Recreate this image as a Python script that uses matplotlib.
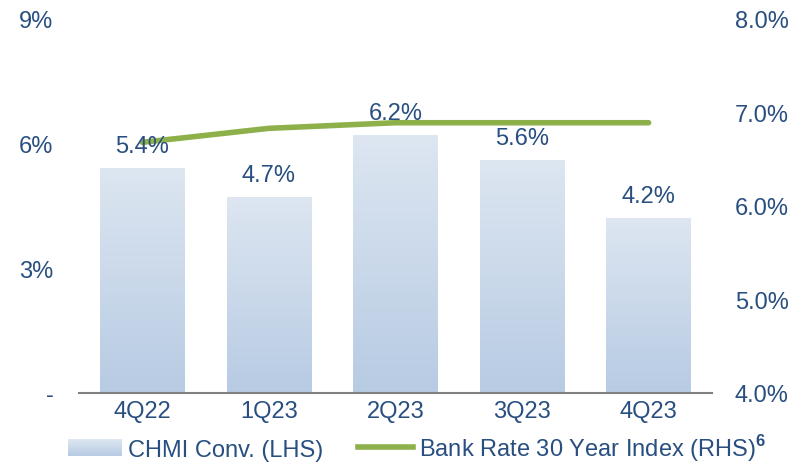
import matplotlib.pyplot as plt
import numpy as np
from matplotlib.legend_handler import HandlerBase
from matplotlib.patches import Rectangle
from matplotlib.lines import Line2D
from matplotlib.colors import LinearSegmentedColormap

plt.rcParams['font.family'] = ['Liberation Sans', 'DejaVu Sans']
plt.rcParams['mathtext.fontset'] = 'custom'
plt.rcParams['mathtext.bf'] = 'Liberation Sans:bold'
plt.rcParams['mathtext.rm'] = 'Liberation Sans'

quarters = ['4Q22', '1Q23', '2Q23', '3Q23', '4Q23']
chmi = [5.4, 4.7, 6.2, 5.6, 4.2]
bank_rate = [6.68, 6.83, 6.89, 6.89, 6.89]

txt = '#284F80'
top_c, bot_c = '#DDE6F1', '#B7CBE3'
green = '#8DB04B'
grad = LinearSegmentedColormap.from_list('g', [bot_c, top_c])
fs = 17

fig = plt.figure(figsize=(8.09, 4.64), dpi=100)
ax = fig.add_axes([0.0977, 0.151, 0.7823, 0.806])
ax2 = ax.twinx()

x = np.arange(len(quarters))
bars = ax.bar(x, chmi, width=0.67, color='none', edgecolor='none')
for b in bars:
    x0, w, h = b.get_x(), b.get_width(), b.get_height()
    ax.imshow(np.linspace(1, 0, 256).reshape(-1, 1), cmap=grad, aspect='auto',
              extent=[x0, x0 + w, 0, h], zorder=1)
for xi, v in zip(x, chmi):
    ax.annotate(f'{v:.1f}%', (xi, v), xytext=(0, 12), textcoords='offset points',
                ha='center', va='baseline', color=txt, fontsize=fs)

ax2.plot(x, bank_rate, color=green, lw=4, solid_capstyle='round')

ax.set_xlim(-0.5, 4.5)
ax.set_ylim(0, 9)
ax2.set_ylim(4, 8)
ax.set_yticks([0, 3, 6, 9])
ax.set_yticklabels(['-', '3%', '6%', '9%'])
ax2.set_yticks([4, 5, 6, 7, 8])
ax2.set_yticklabels([f'{t:.1f}%' for t in [4, 5, 6, 7, 8]])
ax.set_xticks(x)
ax.set_xticklabels(quarters)

ax.set_zorder(ax2.get_zorder() + 1)
ax.patch.set_visible(False)

for a in (ax, ax2):
    for s in ['top', 'left', 'right', 'bottom']:
        a.spines[s].set_visible(False)
    a.tick_params(length=0, labelsize=fs, labelcolor=txt)
ax.spines['bottom'].set_visible(True)
ax.spines['bottom'].set_color('#808080')
ax.spines['bottom'].set_linewidth(1.5)
ax.tick_params(axis='y', pad=18.5)
ax.tick_params(axis='x', pad=5)
ax2.tick_params(axis='y', pad=16.5)


class GradHandler(HandlerBase):
    def create_artists(self, legend, orig, xd, yd, width, height, fontsize, trans):
        n = 20
        arts = []
        for i in range(n):
            c = grad(1 - i / (n - 1))
            r = Rectangle((xd, yd + height * (1 - (i + 1) / n)),
                          width, height / n * 1.05, facecolor=c, edgecolor='none',
                          transform=trans)
            arts.append(r)
        return arts


h1 = Rectangle((0, 0), 1, 1)
h2 = Line2D([0], [0], color=green, lw=4)
fig.legend([h1, h2], ['CHMI Conv. (LHS)', r'Bank Rate 30 Year Index (RHS)$^{\mathbf{6}}$'],
           handler_map={h1: GradHandler()}, loc='center', bbox_to_anchor=(0.515, 0.034),
           ncol=2, frameon=False, fontsize=fs, labelcolor=txt, handlelength=2.3,
           handletextpad=0.25, columnspacing=1.5, borderpad=0, borderaxespad=0)

fig.savefig('out.png', dpi=100)
